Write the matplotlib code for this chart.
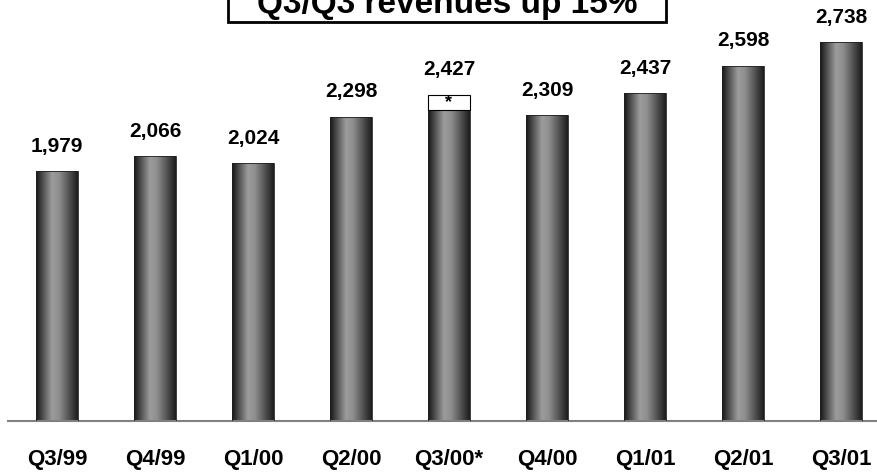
import numpy as np
import matplotlib
matplotlib.use('Agg')
import matplotlib.pyplot as plt
from matplotlib.colors import LinearSegmentedColormap
from matplotlib.patches import Rectangle

quarters = ['Q3/99', 'Q4/99', 'Q1/00', 'Q2/00', 'Q3/00*', 'Q4/00', 'Q1/01', 'Q2/01', 'Q3/01']
revenues = [1979, 2066, 2024, 2298, 2427, 2309, 2437, 2598, 2738]
# Q3/00 without the one-off item shown in the white cap
q3_00_base = 2340
title = 'Q3/Q3 revenues up 15%'

plt.rcParams['font.family'] = ['Liberation Sans', 'DejaVu Sans']

fig = plt.figure(figsize=(8.78, 4.74), dpi=100)
ax = fig.add_axes([8 / 878, 53 / 474, 870 / 878, 421 / 474])

ymin = 508
ax.set_xlim(-0.5, 8.378)
ax.set_ylim(ymin, ymin + 421 / 0.17)

# cylinder look: dark edges, light middle
shade = LinearSegmentedColormap.from_list(
    'shade', [(0, '#151515'), (0.38, '#9c9c9c'), (0.55, '#8e8e8e'), (1, '#1c1c1c')])
grad = np.linspace(0, 1, 256).reshape(1, -1)

w = 0.42
x = np.arange(len(quarters))
for i, v in enumerate(revenues):
    top = q3_00_base if i == 4 else v
    bars = ax.bar(x[i], top - ymin, bottom=ymin, width=w, color='none',
                  edgecolor='#202020', linewidth=0.6, zorder=3)
    im = ax.imshow(grad, cmap=shade, aspect='auto',
                   extent=(x[i] - w / 2, x[i] + w / 2, ymin, top), zorder=2)
    im.set_clip_path(bars[0])
    if i == 4:
        ax.bar(x[i], v - top, bottom=top, width=w, color='white',
               edgecolor='black', linewidth=0.8, zorder=3)
        ax.text(x[i], (v + top) / 2, '*', ha='center', va='center',
                fontsize=13, fontweight='bold', zorder=4)
    ax.text(x[i], v + 90, f'{v:,}', ha='center', va='bottom',
            fontsize=15, fontweight='bold')

ax.set_xticks(x)
ax.set_xticklabels(quarters, fontsize=16, fontweight='bold')
ax.tick_params(axis='x', length=0, pad=20)
ax.set_yticks([])
for s in ['top', 'left', 'right']:
    ax.spines[s].set_visible(False)
ax.spines['bottom'].set_color('#808080')
ax.spines['bottom'].set_linewidth(1.5)

# headline box at the top
fig.patches.append(Rectangle((228 / 878, 1 - 22 / 474), 438 / 878, 0.2,
                             transform=fig.transFigure, facecolor='white',
                             edgecolor='black', linewidth=2))
fig.text(447 / 878, 1 - 13 / 474, title, ha='center', va='baseline',
         fontsize=24, fontweight='bold')

fig.savefig('out.png', dpi=100)
